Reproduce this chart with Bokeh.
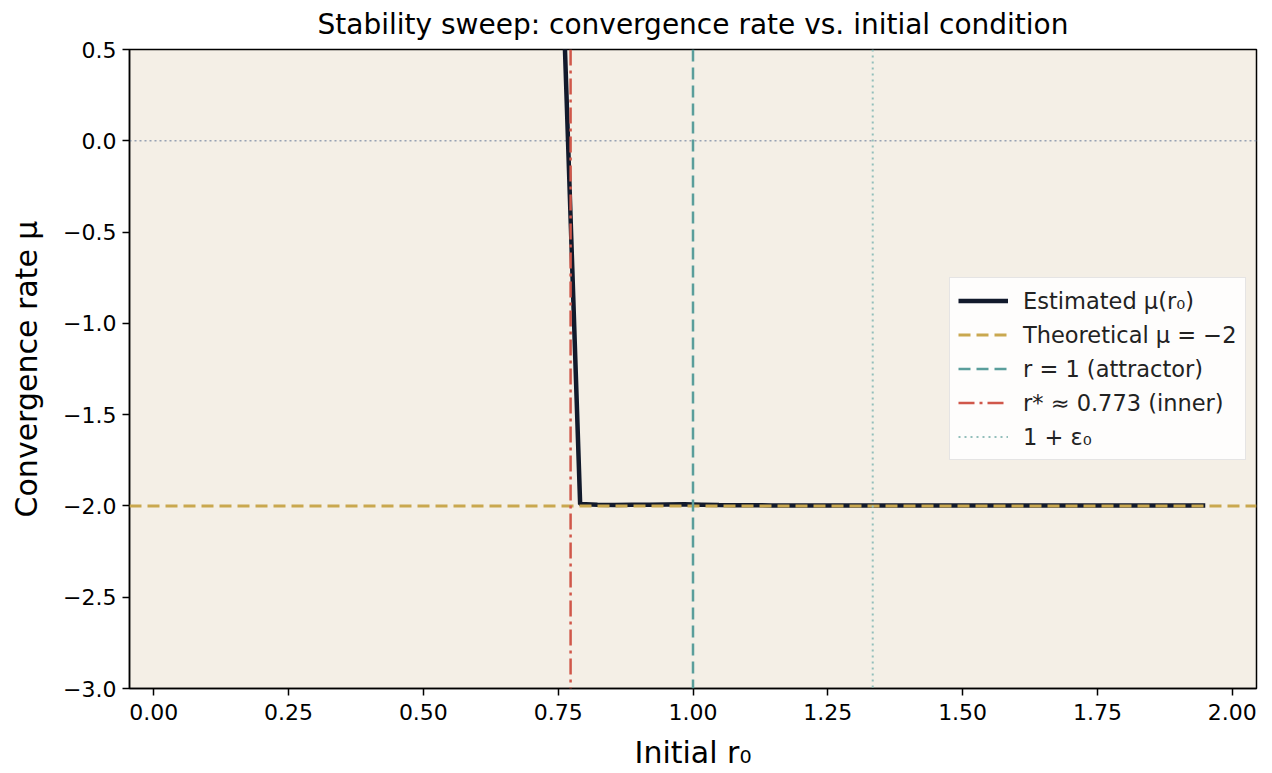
from bokeh.plotting import figure
from bokeh.models import (Range1d, FixedTicker, Span, Legend, LegendItem,
                          CustomJSTickFormatter, ColumnDataSource)
from bokeh.embed import file_html
from bokeh.resources import INLINE

# ---------------- data ----------------
r0 = [0.0500, 0.0822, 0.1144, 0.1466, 0.1788, 0.2110, 0.2432, 0.2754, 0.3076, 0.3398,
      0.3720, 0.4042, 0.4364, 0.4686, 0.5008, 0.5331, 0.5653, 0.5975, 0.6297, 0.6619,
      0.6941, 0.7263, 0.7585, 0.7907, 0.8229, 0.8551, 0.8873, 0.9195, 0.9517, 0.9839,
      1.0161, 1.0483, 1.0805, 1.1127, 1.1449, 1.1771, 1.2093, 1.2415, 1.2737, 1.3059,
      1.3381, 1.3703, 1.4025, 1.4347, 1.4669, 1.4992, 1.5314, 1.5636, 1.5958, 1.6280,
      1.6602, 1.6924, 1.7246, 1.7568, 1.7890, 1.8212, 1.8534, 1.8856, 1.9178, 1.9500]
mu = [9.80, 9.10, 8.40, 7.75, 7.10, 6.50, 5.90, 5.35, 4.80, 4.30,
      3.85, 3.40, 3.00, 2.65, 2.30, 2.00, 1.75, 1.55, 1.35, 1.20,
      1.08, 0.97, 0.86, -1.990, -1.994, -1.995, -1.994, -1.993, -1.992, -1.991,
      -1.993, -1.995, -1.996, -1.996, -1.997, -1.997, -1.997, -1.998, -1.998, -1.998,
      -1.998, -1.998, -1.998, -1.998, -1.998, -1.998, -1.998, -1.998, -1.998, -1.998,
      -1.998, -1.998, -1.998, -1.998, -1.998, -1.998, -1.998, -1.998, -1.997, -1.997]

theoretical_mu = -2.0
r_attractor = 1.0
r_star = 0.773
one_plus_eps0 = 1.3333

x_ticks = [0.0, 0.25, 0.5, 0.75, 1.0, 1.25, 1.5, 1.75, 2.0]
x_tick_labels = ["0.00", "0.25", "0.50", "0.75", "1.00", "1.25", "1.50", "1.75", "2.00"]
y_ticks = [0.5, 0.0, -0.5, -1.0, -1.5, -2.0, -2.5, -3.0]
y_tick_labels = ["0.5", "0.0", "\u22120.5", "\u22121.0", "\u22121.5", "\u22122.0", "\u22122.5", "\u22123.0"]

title_text = "Stability sweep: convergence rate vs. initial condition"
legend_labels = ["Estimated \u03bc(r\u2080)", "Theoretical \u03bc = \u22122", "r = 1 (attractor)",
                 "r* \u2248 0.773 (inner)", "1 + \u03b5\u2080"]

# ---------------- styles ----------------
FONT = "DejaVu Sans"
C_LINE = "#121a2c"
C_GOLD = "#c9a84f"
C_TEAL = "#5a9e9b"
C_RED = "#d0574a"
C_DOT = "#93bfbb"
C_ZERO = "#8d99ae"
NAN = float("nan")

p = figure(width=1270, height=772, output_backend="svg", toolbar_location=None,
           x_range=Range1d(-0.045, 2.045), y_range=Range1d(-3.0, 0.5),
           min_border_left=129, min_border_right=14, min_border_top=48, min_border_bottom=84)

p.background_fill_color = "#f4efe6"
p.border_fill_color = "white"
p.outline_line_color = "black"
p.outline_line_width = 1.5
p.grid.visible = False

p.title.text = title_text
p.title.align = "center"
p.title.vertical_align = "top"
p.title.text_font = FONT
p.title.text_font_size = "28px"
p.title.text_font_style = "normal"
p.title.text_color = "black"
p.title.standoff = 14

def fmt(vals, labs):
    return CustomJSTickFormatter(args=dict(vals=vals, labs=labs), code="""
        let best = 0, d = Infinity;
        for (let i = 0; i < vals.length; i++) {
            const dd = Math.abs(vals[i] - tick);
            if (dd < d) { d = dd; best = i; }
        }
        return labs[best];
    """)

p.xaxis.ticker = FixedTicker(ticks=x_ticks)
p.xaxis.formatter = fmt(x_ticks, x_tick_labels)
p.yaxis.ticker = FixedTicker(ticks=y_ticks)
p.yaxis.formatter = fmt(y_ticks, y_tick_labels)

for ax in (p.xaxis[0], p.yaxis[0]):
    ax.major_label_text_font = FONT
    ax.major_label_text_font_size = "22px"
    ax.major_label_text_color = "black"
    ax.axis_label_text_font = FONT
    ax.axis_label_text_font_size = "30px"
    ax.axis_label_text_font_style = "normal"
    ax.axis_label_text_color = "black"
    ax.minor_tick_line_color = None
    ax.major_tick_in = 0
    ax.major_tick_out = 7
    ax.major_tick_line_width = 1.5
    ax.major_tick_line_color = "black"
    ax.axis_line_color = "black"
    ax.axis_line_width = 1.5

p.xaxis.major_label_standoff = 8
p.xaxis.axis_label = "Initial r\u2080"
p.xaxis.axis_label_standoff = 12
p.yaxis.major_label_standoff = 6
p.yaxis.axis_label = "Convergence rate \u03bc"
p.yaxis.axis_label_standoff = 16

# zero reference line (behind the curve)
p.add_layout(Span(location=0.0, dimension="width", line_color=C_ZERO, line_width=1.5,
                  line_dash="2 3", line_alpha=0.9, level="underlay"))

# main curve
src = ColumnDataSource(dict(r0=r0, mu=mu))
main = p.line("r0", "mu", source=src, line_color=C_LINE, line_width=4.5)

# reference lines on top
p.add_layout(Span(location=theoretical_mu, dimension="width", line_color=C_GOLD,
                  line_width=3, line_dash="12 6"))
p.add_layout(Span(location=r_attractor, dimension="height", line_color=C_TEAL,
                  line_width=2.5, line_dash="12 6"))
p.add_layout(Span(location=r_star, dimension="height", line_color=C_RED,
                  line_width=2.5, line_dash="16 5 3 5"))
p.add_layout(Span(location=one_plus_eps0, dimension="height", line_color=C_DOT,
                  line_width=2, line_dash="2 4"))

# legend proxies (NaN data, invisible in the plot)
def proxy(**kw):
    return p.line("x", "y", source=ColumnDataSource(dict(x=[NAN, NAN], y=[NAN, NAN])), **kw)

g_gold = proxy(line_color=C_GOLD, line_width=3, line_dash="12 6")
g_teal = proxy(line_color=C_TEAL, line_width=2.5, line_dash="12 6")
g_red = proxy(line_color=C_RED, line_width=2.5, line_dash="16 5 3 5")
g_dot = proxy(line_color=C_DOT, line_width=2, line_dash="2 4")

legend = Legend(items=[LegendItem(label=legend_labels[0], renderers=[main]),
                       LegendItem(label=legend_labels[1], renderers=[g_gold]),
                       LegendItem(label=legend_labels[2], renderers=[g_teal]),
                       LegendItem(label=legend_labels[3], renderers=[g_red]),
                       LegendItem(label=legend_labels[4], renderers=[g_dot])],
                location=(820, 228))
legend.label_text_font = FONT
legend.label_text_font_size = "22.5px"
legend.label_text_color = "#222222"
legend.glyph_width = 50
legend.glyph_height = 29
legend.label_height = 29
legend.label_standoff = 15
legend.spacing = 5
legend.padding = 8
legend.margin = 0
legend.background_fill_color = "white"
legend.background_fill_alpha = 0.85
legend.border_line_color = "#cccccc"
legend.border_line_width = 1.5
p.add_layout(legend, "center")

open("out.html", "w").write(file_html(p, INLINE))
